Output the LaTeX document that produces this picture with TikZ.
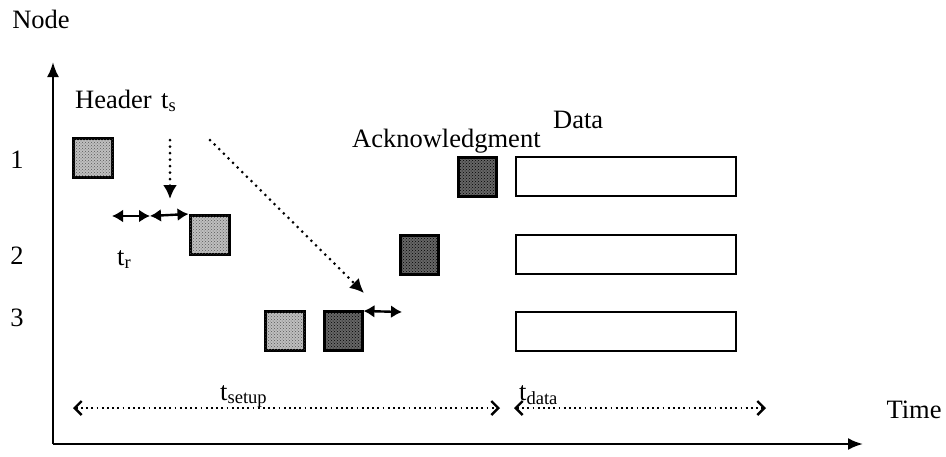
\documentclass[tikz,border=0pt]{standalone}
\usepackage{fontspec}
\setmainfont{Liberation Serif}
\usetikzlibrary{arrows.meta,patterns}

\tikzset{
  lbl/.style={font=\fontsize{26.5}{30}\selectfont, inner sep=0pt},
  hdrbox/.style={draw=black, line width=3pt, minimum width=39pt, minimum height=39pt,
    inner sep=0pt, fill=black!25, postaction={pattern=crosshatch dots, pattern color=black!65}},
  ackbox/.style={draw=black, line width=3pt, minimum width=38pt, minimum height=39pt,
    inner sep=0pt, fill=black!60, postaction={pattern=crosshatch dots, pattern color=black}},
  databox/.style={draw=black, line width=2.4pt, minimum width=220pt, minimum height=39pt, inner sep=0pt},
  axis/.style={line width=2.4pt, -{Latex[length=15pt,width=12pt]}},
  dur/.style={line width=2.4pt, {Latex[length=11pt,width=13pt]}-{Latex[length=11pt,width=13pt]}},
  dotline/.style={line width=3pt, line cap=round, dash pattern=on 0pt off 6.5pt},
  dotarrow/.style={dotline, -{Latex[length=14pt,width=14pt]}},
  span/.style={line width=1.8pt, dash pattern=on 1.8pt off 3.4pt,
    {Straight Barb[length=7pt,width=14pt,line width=2.4pt]}-{Straight Barb[length=7pt,width=14pt,line width=2.4pt]}}
}

\begin{document}
\begin{tikzpicture}[x=1pt,y=-1pt]
\useasboundingbox (0,0) rectangle (946,456);

% axes
\coordinate (O) at (53,444);
\coordinate (ytop) at (53,62);
\coordinate (xend) at (863,444);
\draw[axis] (O) -- (ytop);
\draw[axis] (O) -- (xend);
\node[lbl] (nodelbl) at (41,19) {Node};
\node[lbl] (timelbl) at (914,410) {Time};

% row numbers
\node[lbl] (n1) at (17,160) {1};
\node[lbl] (n2) at (17,256) {2};
\node[lbl] (n3) at (17,318) {3};

% header packets
\node[hdrbox] (H1) at (93,158) {};
\node[hdrbox] (H2) at (209.5,235) {};
\node[hdrbox] (H3) at (285,331) {};

% acknowledgment packets
\node[ackbox] (A1) at (477,177) {};
\node[ackbox] (A2) at (419,255) {};
\node[ackbox] (A3) at (343,331) {};

% data frames
\node[databox] (D1) at (626,176.5) {};
\node[databox] (D2) at (626,254.5) {};
\node[databox] (D3) at (626,331.5) {};

% labels
\node[lbl, anchor=base west] (hdr) at (75,108) {Header};
\node[lbl, anchor=base west] (ts) at (161,108) {t\textsubscript{s}};
\node[lbl, anchor=base west] (tr) at (117,265) {t\textsubscript{r}};
\node[lbl, anchor=base west] (ack) at (352,147) {Acknowledgment};
\node[lbl, anchor=base west] (datalbl) at (553,128) {Data};
\node[lbl, anchor=base west] (tsetup) at (220,400) {t\textsubscript{setup}};
\node[lbl, anchor=base west] (tdata) at (519,400) {t\textsubscript{data}};

% switching delay and processing delay
\coordinate (tsa) at (170,140);
\coordinate (tsb) at (170,199);
\draw[dotarrow] (tsa) -- (tsb);
\coordinate (pa) at (210,140);
\coordinate (pb) at (364,293);
\draw[dotarrow] (pa) -- (pb);

\coordinate (r0) at (112,216);
\coordinate (r1) at (150,216);
\draw[dur] (r0) -- (r1);
\draw[dur] (r1) -- (H2.north west);

\path (A3.north east) ++(0,1) coordinate (q0);
\coordinate (q1) at (402,312);
\draw[dur] (q0) -- (q1);

% time spans
\coordinate (s0) at (73,408);
\coordinate (s1) at (500,408);
\draw[span] (s0) -- (s1);
\coordinate (d0) at (514,408);
\coordinate (d1) at (766,408);
\draw[span] (d0) -- (d1);
\end{tikzpicture}
\end{document}
